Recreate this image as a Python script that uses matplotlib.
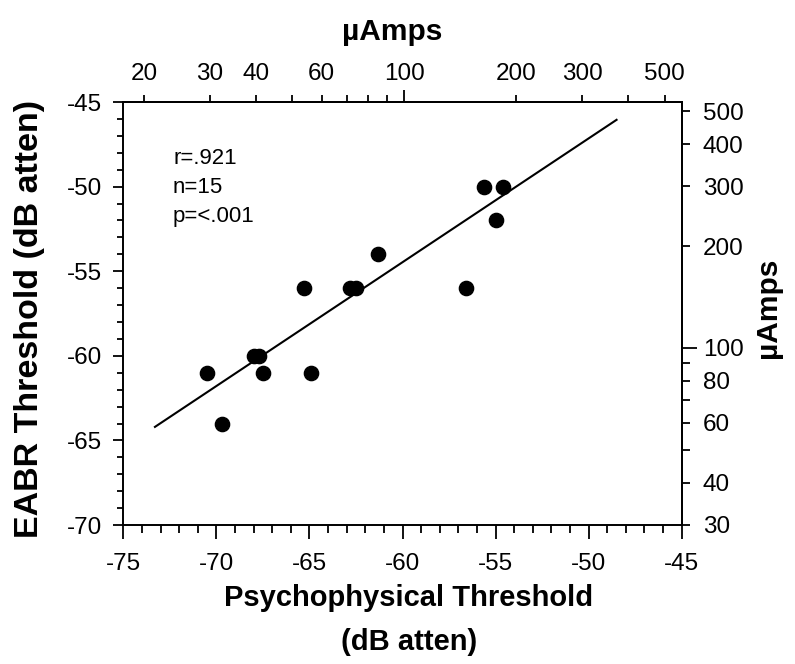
import numpy as np
import matplotlib
matplotlib.use('Agg')
import matplotlib.pyplot as plt
from matplotlib.ticker import FixedLocator, FixedFormatter, MultipleLocator

plt.rcParams['font.family'] = ['Liberation Sans', 'DejaVu Sans']
plt.rcParams['axes.unicode_minus'] = False

# data (dB attenuation)
psych_db = [-70.5, -69.7, -68.0, -67.7, -67.5, -65.3, -64.9, -62.8, -62.5, -61.3, -56.6, -55.6, -54.6, -55.0]
eabr_db = [-61, -64, -60, -60, -61, -56, -61, -56, -56, -54, -56, -50, -50, -52]

# regression line end points
fit_x = [-73.3, -48.5]
fit_y = [-64.2, -46.05]

stats_lines = ['r=.921', 'n=15', 'p=<.001']

# µAmps axes
top_ua_major = [100]
top_ua_minor = [20, 30, 40, 50, 60, 70, 80, 90, 200, 300, 400, 500]
top_minor_labels = ['20', '30', '40', '', '60', '', '', '', '200', '300', '', '500']
right_ua_major = [100]
right_ua_minor = [30, 40, 50, 60, 70, 80, 90, 200, 300, 400, 500]
right_minor_labels = ['30', '40', '', '60', '', '80', '', '200', '300', '400', '500']

top_ref_db = -59.9     # dB value where 100 µA sits on the top axis
right_ref_db = -59.53  # same for the right axis


def make_funcs(ref):
    def fwd(db):
        return 100.0 * 10 ** ((np.asarray(db) - ref) / 20.0)

    def inv(ua):
        ua = np.maximum(np.asarray(ua, dtype=float), 1e-9)
        return ref + 20.0 * np.log10(ua / 100.0)
    return fwd, inv


fig = plt.figure(figsize=(7.95, 6.64), dpi=100)
ax = fig.add_axes([0.1551, 0.2093, 0.7024, 0.6370])

ax.plot(fit_x, fit_y, color='black', lw=1.5)
ax.scatter(psych_db, eabr_db, s=105, color='black', zorder=3)

ax.set_xlim(-75, -45)
ax.set_ylim(-70, -45)
ax.xaxis.set_major_locator(MultipleLocator(5))
ax.xaxis.set_minor_locator(MultipleLocator(1))
ax.yaxis.set_major_locator(MultipleLocator(5))
ax.yaxis.set_minor_locator(MultipleLocator(1))

for sp in ax.spines.values():
    sp.set_linewidth(1.4)

ax.tick_params(which='both', direction='out', width=1.3, labelsize=17.5)
ax.tick_params(axis='x', which='major', length=10, pad=10.5)
ax.tick_params(axis='x', which='minor', length=6)
ax.tick_params(axis='y', which='major', length=7.5, pad=8)
ax.tick_params(axis='y', which='minor', length=4)

# top µAmps axis
secx = ax.secondary_xaxis('top', functions=make_funcs(top_ref_db))
secx.xaxis.set_major_locator(FixedLocator(top_ua_major))
secx.xaxis.set_major_formatter(FixedFormatter([str(v) for v in top_ua_major]))
secx.xaxis.set_minor_locator(FixedLocator(top_ua_minor))
secx.xaxis.set_minor_formatter(FixedFormatter(top_minor_labels))
secx.tick_params(which='both', direction='out', width=1.3, labelsize=17.5)
secx.tick_params(which='major', length=8.6, pad=3.5)
secx.tick_params(which='minor', length=5, pad=7.1)
secx.spines['top'].set_linewidth(1.4)

# right µAmps axis
secy = ax.secondary_yaxis('right', functions=make_funcs(right_ref_db))
secy.yaxis.set_major_locator(FixedLocator(right_ua_major))
secy.yaxis.set_major_formatter(FixedFormatter([str(v) for v in right_ua_major]))
secy.yaxis.set_minor_locator(FixedLocator(right_ua_minor))
secy.yaxis.set_minor_formatter(FixedFormatter(right_minor_labels))
secy.tick_params(which='both', direction='out', width=1.3, labelsize=17.5)
secy.tick_params(which='major', length=10.8, pad=4.4)
secy.tick_params(which='minor', length=5.8, pad=9.4)
secy.spines['right'].set_linewidth(1.4)

# stats text
for i, s in enumerate(stats_lines):
    ax.text(0.089, 0.866 - i * 0.068, s, transform=ax.transAxes,
            fontsize=16, ha='left', va='center')

# axis titles
fig.text(0.5145, 0.0994, 'Psychophysical Threshold', fontsize=21, fontweight='bold',
         ha='center', va='center')
fig.text(0.5145, 0.0330, '(dB atten)', fontsize=21, fontweight='bold',
         ha='center', va='center')
fig.text(0.0377, 0.519, 'EABR Threshold (dB atten)', fontsize=24.5, fontweight='bold',
         rotation=90, ha='center', va='center')
fig.text(0.493, 0.952, 'µAmps', fontsize=21.5, fontweight='bold', ha='center', va='center')
fig.text(0.966, 0.537, 'µAmps', fontsize=21.5, fontweight='bold', rotation=90,
         ha='center', va='center')

fig.savefig('out.png', dpi=100)
